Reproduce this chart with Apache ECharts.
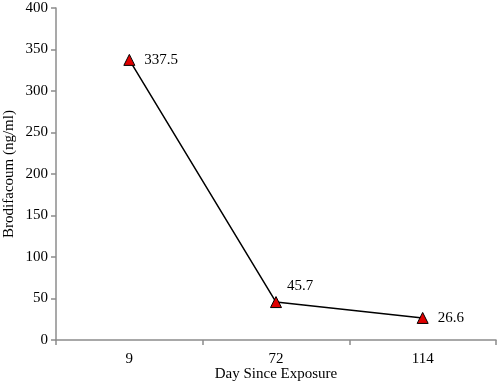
<!DOCTYPE html>
<html>
<head>
<meta charset="utf-8">
<script src="https://cdn.jsdelivr.net/npm/echarts@6/dist/echarts.min.js"></script>
<style>
  html, body { margin: 0; padding: 0; background: #fff; }
  #chart { width: 498px; height: 383px; }
</style>
</head>
<body>
<div id="chart"></div>
<script>
  const days = ["9", "72", "114"];
  const brodifacoum = [337.5, 45.7, 26.6];

  const font = "'Liberation Serif', 'Times New Roman', serif";
  const axisGrey = "#8c8c8c";

  // the middle label sits above the point in the original
  const points = brodifacoum.map((v, i) => ({
    value: v,
    label: i === 1 ? { offset: [-4, -16] } : {},
  }));

  const option = {
    animation: false,
    grid: { left: 56, right: 2, top: 8, bottom: 43, outerBoundsMode: "none" },
    xAxis: {
      type: "category",
      data: days,
      boundaryGap: true,
      name: "Day Since Exposure",
      nameLocation: "middle",
      nameGap: 27,
      nameMoveOverlap: false,
      nameTextStyle: { fontFamily: font, fontSize: 15, color: "#000" },
      axisLine: { lineStyle: { color: axisGrey, width: 1.5 } },
      axisTick: { show: true, length: 5, lineStyle: { color: axisGrey, width: 1.5 } },
      axisLabel: { fontFamily: font, fontSize: 15, color: "#000", margin: 12 },
    },
    yAxis: {
      type: "value",
      min: 0,
      max: 400,
      interval: 50,
      name: "Brodifacoum (ng/ml)",
      nameLocation: "middle",
      nameGap: 39,
      nameMoveOverlap: false,
      nameTextStyle: { fontFamily: font, fontSize: 15, color: "#000" },
      axisLine: { show: true, lineStyle: { color: axisGrey, width: 1.5 } },
      axisTick: { show: true, length: 5, lineStyle: { color: axisGrey, width: 1.5 } },
      axisLabel: { fontFamily: font, fontSize: 15, color: "#000", margin: 8 },
      splitLine: { show: false },
    },
    series: [
      {
        type: "line",
        data: points,
        symbol: "triangle",
        symbolSize: 11,
        itemStyle: { color: "#e00000", borderColor: "#000", borderWidth: 1 },
        lineStyle: { color: "#000", width: 1.5 },
        label: {
          show: true,
          position: "right",
          distance: 9,
          fontFamily: font,
          fontSize: 15,
          color: "#000",
        },
      },
    ],
  };

  const myChart = echarts.init(document.getElementById("chart"));
  myChart.setOption(option);
</script>
</body>
</html>
